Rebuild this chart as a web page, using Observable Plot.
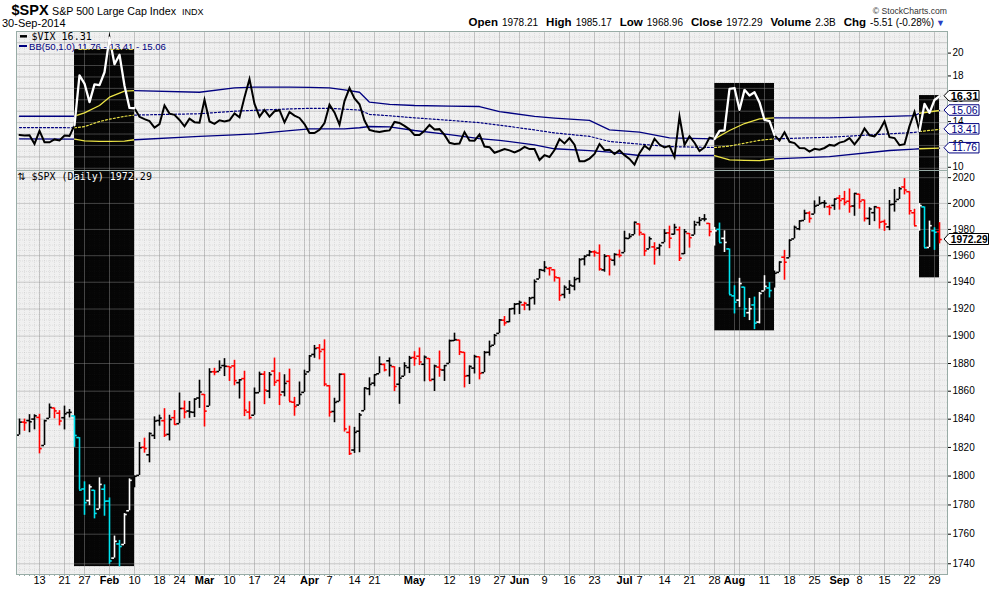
<!DOCTYPE html>
<html><head><meta charset="utf-8">
<script src="https://cdn.jsdelivr.net/npm/d3@7"></script>
<script src="https://cdn.jsdelivr.net/npm/@observablehq/plot@0.6"></script>
<style>
html,body{margin:0;padding:0;background:#fff;}
#chart{width:990px;height:591px;overflow:hidden;}
#chart svg{display:block;}
</style></head><body><div id="chart"></div>
<script>
// ---------------- DATA ----------------
const days = [
"2014-01-07","2014-01-08","2014-01-09","2014-01-10","2014-01-13","2014-01-14","2014-01-15","2014-01-16","2014-01-17","2014-01-21","2014-01-22","2014-01-23","2014-01-24","2014-01-27","2014-01-28","2014-01-29","2014-01-30","2014-01-31",
"2014-02-03","2014-02-04","2014-02-05","2014-02-06","2014-02-07","2014-02-10","2014-02-11","2014-02-12","2014-02-13","2014-02-14","2014-02-18","2014-02-19","2014-02-20","2014-02-21","2014-02-24","2014-02-25","2014-02-26","2014-02-27","2014-02-28",
"2014-03-03","2014-03-04","2014-03-05","2014-03-06","2014-03-07","2014-03-10","2014-03-11","2014-03-12","2014-03-13","2014-03-14","2014-03-17","2014-03-18","2014-03-19","2014-03-20","2014-03-21","2014-03-24","2014-03-25","2014-03-26","2014-03-27","2014-03-28","2014-03-31",
"2014-04-01","2014-04-02","2014-04-03","2014-04-04","2014-04-07","2014-04-08","2014-04-09","2014-04-10","2014-04-11","2014-04-14","2014-04-15","2014-04-16","2014-04-17","2014-04-21","2014-04-22","2014-04-23","2014-04-24","2014-04-25","2014-04-28","2014-04-29","2014-04-30",
"2014-05-01","2014-05-02","2014-05-05","2014-05-06","2014-05-07","2014-05-08","2014-05-09","2014-05-12","2014-05-13","2014-05-14","2014-05-15","2014-05-16","2014-05-19","2014-05-20","2014-05-21","2014-05-22","2014-05-23","2014-05-27","2014-05-28","2014-05-29","2014-05-30",
"2014-06-02","2014-06-03","2014-06-04","2014-06-05","2014-06-06","2014-06-09","2014-06-10","2014-06-11","2014-06-12","2014-06-13","2014-06-16","2014-06-17","2014-06-18","2014-06-19","2014-06-20","2014-06-23","2014-06-24","2014-06-25","2014-06-26","2014-06-27","2014-06-30",
"2014-07-01","2014-07-02","2014-07-03","2014-07-07","2014-07-08","2014-07-09","2014-07-10","2014-07-11","2014-07-14","2014-07-15","2014-07-16","2014-07-17","2014-07-18","2014-07-21","2014-07-22","2014-07-23","2014-07-24","2014-07-25","2014-07-28","2014-07-29","2014-07-30","2014-07-31",
"2014-08-01","2014-08-04","2014-08-05","2014-08-06","2014-08-07","2014-08-08","2014-08-11","2014-08-12","2014-08-13","2014-08-14","2014-08-15","2014-08-18","2014-08-19","2014-08-20","2014-08-21","2014-08-22","2014-08-25","2014-08-26","2014-08-27","2014-08-28","2014-08-29",
"2014-09-02","2014-09-03","2014-09-04","2014-09-05","2014-09-08","2014-09-09","2014-09-10","2014-09-11","2014-09-12","2014-09-15","2014-09-16","2014-09-17","2014-09-18","2014-09-19","2014-09-22","2014-09-23","2014-09-24","2014-09-25","2014-09-26","2014-09-29","2014-09-30"];

const open = [
1828.71,1837.90,1839.00,1840.06,1841.26,1821.36,1840.52,1847.99,1844.23,1841.05,1844.71,1842.29,1826.96,1791.03,1783.00,1790.15,1777.17,1790.88,
1782.68,1743.82,1753.38,1752.99,1776.01,1796.20,1800.45,1820.12,1814.82,1828.46,1839.03,1838.90,1829.24,1841.07,1836.78,1847.66,1845.79,1844.90,1855.12,
1857.68,1849.23,1874.05,1874.18,1878.52,1877.86,1878.26,1866.15,1869.06,1845.07,1842.81,1858.92,1872.25,1860.09,1874.53,1867.67,1859.48,1867.09,1852.11,1850.07,1859.16,
1873.96,1886.61,1891.43,1890.25,1863.92,1845.48,1852.64,1872.28,1830.65,1818.18,1831.45,1846.01,1861.73,1865.79,1872.57,1879.32,1881.97,1877.72,1865.00,1870.78,1877.10,
1884.39,1885.30,1879.45,1883.69,1868.53,1877.39,1875.27,1880.03,1896.75,1897.13,1888.16,1871.19,1876.66,1884.88,1873.34,1888.19,1893.32,1902.01,1911.77,1910.60,1920.33,
1923.87,1923.07,1923.06,1928.52,1942.41,1948.97,1950.34,1949.37,1943.35,1930.80,1934.84,1937.15,1942.73,1957.50,1960.45,1962.92,1961.97,1949.27,1959.89,1956.56,1960.79,
1962.29,1973.06,1975.88,1984.22,1976.39,1965.10,1966.67,1965.76,1969.86,1977.36,1976.35,1979.75,1961.54,1976.93,1975.65,1985.32,1988.07,1984.60,1978.25,1980.03,1973.21,1965.14,
1929.80,1926.62,1936.34,1917.29,1923.03,1910.35,1933.43,1935.73,1935.60,1947.41,1958.87,1958.36,1972.73,1980.46,1986.82,1992.60,1991.74,1998.59,2000.54,1997.42,1998.45,
2004.07,2003.57,2001.67,1998.00,2007.17,2002.67,1988.41,1992.85,1996.74,1986.04,1981.93,1999.30,2003.07,2012.74,2009.08,1992.78,1983.34,1997.32,1966.22,1978.96,1978.21];

const high = [
1840.10,1840.02,1843.23,1843.15,1843.45,1839.26,1850.84,1847.99,1846.04,1849.31,1846.87,1842.29,1826.96,1795.98,1793.87,1790.15,1798.77,1793.88,
1784.83,1758.73,1755.79,1774.06,1798.03,1799.94,1823.54,1826.55,1830.25,1841.65,1842.87,1847.50,1842.79,1846.13,1858.71,1852.91,1852.65,1854.53,1867.92,
1857.68,1876.23,1876.53,1881.94,1883.57,1877.87,1882.35,1868.38,1874.40,1852.44,1862.30,1873.76,1874.14,1873.49,1883.97,1873.34,1871.87,1875.92,1855.55,1866.63,1875.18,
1885.84,1893.17,1893.80,1897.28,1864.04,1854.95,1872.43,1872.53,1835.07,1834.19,1844.02,1862.31,1869.63,1871.89,1884.89,1879.75,1884.06,1877.72,1877.01,1880.60,1885.20,
1888.59,1891.33,1885.51,1883.69,1878.83,1889.07,1878.57,1897.13,1902.17,1897.13,1888.16,1878.28,1886.00,1884.88,1888.80,1896.33,1901.26,1912.28,1914.46,1920.03,1924.03,
1925.88,1925.07,1928.63,1941.74,1949.44,1955.55,1950.86,1949.37,1943.35,1937.30,1941.15,1943.69,1957.74,1959.87,1963.91,1963.74,1968.17,1960.83,1959.89,1961.47,1964.24,
1978.58,1976.67,1985.59,1984.22,1976.39,1974.15,1969.84,1968.67,1979.85,1982.52,1983.94,1981.80,1979.91,1976.93,1986.24,1989.23,1991.39,1984.60,1981.52,1984.85,1978.90,1965.14,
1937.35,1942.92,1936.34,1927.91,1928.89,1932.38,1944.90,1939.65,1948.41,1955.23,1964.04,1971.99,1982.57,1986.61,1994.76,1993.54,2001.95,2005.04,2002.14,1998.55,2003.38,
2006.12,2009.28,2011.17,2007.71,2007.17,2002.67,1996.66,1997.65,1996.74,1987.18,2002.28,2010.74,2012.34,2019.26,2009.08,1995.41,1999.79,1997.32,1986.37,1981.28,1985.17];

const low = [
1828.71,1831.40,1830.38,1832.43,1815.52,1821.36,1840.52,1840.30,1835.23,1832.38,1840.88,1820.06,1790.29,1772.88,1779.49,1770.45,1777.17,1772.26,
1739.66,1743.82,1737.92,1752.99,1776.01,1791.83,1800.41,1815.97,1809.22,1825.59,1835.01,1826.99,1824.58,1835.60,1836.78,1840.19,1840.66,1841.13,1847.67,
1834.44,1849.23,1871.11,1874.18,1870.56,1867.04,1863.88,1854.38,1841.86,1839.57,1842.81,1858.92,1850.35,1854.63,1863.46,1849.69,1855.96,1852.56,1842.11,1850.07,1859.16,
1873.96,1883.79,1882.65,1863.26,1841.48,1837.49,1852.38,1830.87,1814.36,1815.80,1816.29,1846.01,1856.72,1863.18,1872.57,1873.91,1870.24,1859.70,1850.61,1870.78,1872.69,
1878.04,1878.50,1866.77,1867.72,1859.79,1870.05,1867.02,1880.03,1896.06,1885.77,1862.36,1864.82,1872.42,1868.14,1873.34,1885.39,1893.32,1902.01,1907.30,1909.82,1915.58,
1915.98,1918.79,1918.60,1922.93,1942.41,1947.16,1944.64,1940.08,1925.78,1927.69,1930.91,1933.55,1939.29,1952.26,1959.17,1958.89,1948.34,1947.49,1944.69,1952.18,1958.22,
1962.29,1972.58,1975.88,1974.88,1959.46,1965.10,1952.86,1959.63,1969.86,1965.34,1975.67,1955.59,1960.82,1965.77,1975.65,1982.44,1985.79,1974.37,1967.31,1969.95,1962.42,1930.67,
1916.37,1921.20,1913.77,1911.45,1904.78,1909.01,1933.43,1928.29,1935.60,1947.41,1941.50,1958.36,1972.73,1979.01,1986.82,1984.76,1991.74,1998.59,1996.20,1990.52,1994.65,
1994.85,1998.14,1992.44,1990.10,1995.60,1985.70,1982.99,1985.93,1980.26,1978.48,1979.06,1993.29,2003.07,2006.59,1991.01,1982.77,1978.63,1965.99,1966.22,1964.04,1968.96];

const close = [
1837.88,1837.49,1838.13,1842.37,1819.20,1838.88,1848.38,1845.89,1838.70,1843.80,1844.86,1828.46,1790.29,1781.56,1792.50,1774.20,1794.19,1782.59,
1741.89,1755.20,1751.64,1773.43,1797.02,1799.84,1819.75,1819.26,1829.83,1838.63,1840.76,1828.75,1839.78,1836.25,1847.61,1845.12,1845.16,1854.29,1859.45,
1845.73,1873.91,1873.81,1877.03,1878.04,1877.17,1867.63,1868.20,1846.34,1841.13,1858.83,1872.25,1860.77,1872.01,1866.52,1857.44,1865.62,1852.56,1849.04,1857.62,1872.34,
1885.52,1890.90,1888.77,1865.09,1845.04,1851.96,1872.18,1833.08,1815.69,1830.61,1842.98,1862.31,1864.85,1871.89,1879.55,1875.39,1878.61,1863.40,1869.43,1878.33,1883.95,
1883.68,1881.14,1884.66,1867.72,1878.21,1875.63,1878.48,1896.65,1897.45,1888.53,1870.85,1877.86,1885.08,1872.83,1888.03,1892.49,1900.53,1911.91,1909.78,1920.03,1923.57,
1924.97,1924.24,1927.88,1940.46,1949.44,1951.27,1950.79,1943.89,1930.11,1936.16,1937.78,1941.99,1956.98,1959.48,1962.87,1962.61,1949.98,1959.53,1957.22,1960.96,1960.23,
1973.32,1974.62,1985.44,1977.65,1963.71,1972.83,1964.68,1967.57,1977.10,1973.28,1981.57,1958.12,1978.22,1973.63,1983.53,1987.01,1987.98,1978.34,1978.91,1969.95,1970.07,1930.67,
1925.15,1938.99,1920.21,1920.24,1909.57,1931.59,1936.92,1933.75,1946.72,1955.18,1955.06,1971.74,1981.60,1986.51,1992.37,1988.40,1997.92,2000.02,2000.12,1996.74,2003.37,
2002.28,2000.72,1997.65,2007.71,2001.54,1988.44,1995.69,1997.45,1985.54,1984.13,1998.98,2001.57,2011.36,2010.40,1994.29,1982.77,1998.30,1965.99,1982.85,1977.80,1972.29];

const prevClose = 1826.77;   // close of the session before the first bar
const volumeText = "2.3B";

const vix = [
12.92,12.87,12.89,12.14,13.28,12.28,12.28,12.53,12.44,12.87,12.84,13.77,18.14,17.42,15.80,17.35,17.29,18.41,
21.44,19.11,19.95,17.23,15.29,15.26,14.51,14.30,14.14,13.57,13.87,15.50,14.79,14.68,14.23,13.67,14.35,14.04,14.00,
16.00,14.10,13.89,14.21,14.11,14.20,14.80,14.47,16.22,17.82,15.64,14.52,15.12,14.52,15.00,15.09,14.02,14.93,14.62,14.41,13.88,
13.10,13.09,13.37,13.96,15.57,14.89,13.82,15.89,17.03,16.11,15.61,14.18,13.36,13.25,13.19,13.27,13.32,14.06,13.97,13.71,13.41,
12.91,12.91,13.29,13.80,13.40,13.43,12.92,12.23,12.13,12.17,13.17,12.44,12.42,12.96,11.91,11.85,11.36,11.51,11.68,11.57,11.40,
11.58,11.87,11.68,11.68,10.73,11.15,10.99,11.60,12.56,12.18,12.65,12.06,10.61,10.62,10.85,11.26,12.13,11.59,11.63,11.26,11.57,
11.15,10.82,10.32,11.33,11.98,11.65,12.59,12.08,11.82,11.96,11.00,14.54,12.06,12.81,12.24,11.52,11.84,12.69,12.56,13.28,13.33,16.95,
17.03,15.12,16.87,16.37,16.66,15.77,14.23,14.13,12.90,12.42,13.15,12.32,12.21,11.78,11.76,11.47,11.70,11.63,11.78,12.05,11.98,
12.25,12.36,12.64,12.09,12.66,13.50,12.88,12.80,13.31,14.12,12.73,12.65,12.03,12.11,13.69,14.93,13.27,15.64,14.85,15.98,16.31];

// Bollinger Bands (50, 1.0) at sample sessions
const bbDates = ["2014-01-07","2014-01-23","2014-01-27","2014-01-30","2014-02-03","2014-02-06","2014-02-10","2014-02-28","2014-03-11","2014-03-17","2014-03-26","2014-04-01","2014-04-07","2014-04-10","2014-04-15","2014-04-17","2014-04-24","2014-05-01","2014-05-12","2014-05-20","2014-05-27","2014-06-05","2014-06-11","2014-06-20","2014-06-26","2014-07-07","2014-07-15","2014-07-28","2014-07-31","2014-08-05","2014-08-08","2014-08-13","2014-08-28","2014-09-16","2014-09-23","2014-09-24","2014-09-30"];
const bbUpper  = [14.56,14.56,14.85,15.50,16.23,16.75,16.81,16.66,17.05,17.10,17.10,17.08,17.05,16.87,16.66,15.79,15.59,15.50,15.45,15.41,14.97,14.54,14.40,14.19,13.37,13.16,12.67,12.58,13.31,13.92,14.33,14.42,14.42,14.54,14.62,14.82,15.06];
const bbMiddle = [13.57,13.55,13.65,14.10,14.30,14.55,14.66,14.78,15.00,15.08,15.20,15.25,15.25,15.18,15.10,14.72,14.60,14.42,14.20,14.00,13.78,13.36,13.10,12.80,12.35,12.12,11.90,11.82,11.95,12.20,12.45,12.58,12.72,13.02,13.14,13.22,13.41];
const bbLower  = [12.58,12.55,12.40,12.35,12.35,12.38,12.50,12.80,12.92,13.02,13.30,13.46,13.46,13.46,13.55,13.66,13.62,13.31,12.95,12.60,12.45,12.05,11.71,11.55,11.41,11.12,11.12,11.12,10.74,10.70,10.68,10.83,11.03,11.56,11.68,11.71,11.76];

// black highlight boxes (annotations)
const highlightStart = ["2014-01-23","2014-07-28","2014-09-24"];
const highlightEnd   = ["2014-02-10","2014-08-13","2014-09-30"];
const highlightVixTop = [20.40, 17.43, 16.37];
const highlightPriceBottom = [1738.1, 1903.9, 1943.3];

// axis ticks
const xTickDates = ["2014-01-13","2014-01-21","2014-01-27","2014-02-03","2014-02-10","2014-02-18","2014-02-24","2014-03-03","2014-03-10","2014-03-17","2014-03-24","2014-04-01","2014-04-07","2014-04-14","2014-04-21","2014-05-01","2014-05-12","2014-05-19","2014-05-27","2014-06-02","2014-06-09","2014-06-16","2014-06-23","2014-07-01","2014-07-07","2014-07-14","2014-07-21","2014-07-28","2014-08-01","2014-08-11","2014-08-18","2014-08-25","2014-09-02","2014-09-08","2014-09-15","2014-09-22","2014-09-29"];
const xTickLabels = ["13","21","27","Feb","10","18","24","Mar","10","17","24","Apr","7","14","21","May","12","19","27","Jun","9","16","23","Jul","7","14","21","28","Aug","11","18","25","Sep","8","15","22","29"];
const gridDates = ["2014-01-13","2014-01-21","2014-01-27","2014-02-03","2014-02-10","2014-02-18","2014-02-24","2014-03-03","2014-03-10","2014-03-17","2014-03-24","2014-03-31","2014-04-01","2014-04-07","2014-04-14","2014-04-21","2014-04-28","2014-05-01","2014-05-05","2014-05-12","2014-05-19","2014-05-27","2014-06-02","2014-06-09","2014-06-16","2014-06-23","2014-06-30","2014-07-01","2014-07-07","2014-07-14","2014-07-21","2014-07-28","2014-08-01","2014-08-04","2014-08-11","2014-08-18","2014-08-25","2014-09-02","2014-09-08","2014-09-15","2014-09-22","2014-09-29"];
const priceTicks = [1740,1760,1780,1800,1820,1840,1860,1880,1900,1920,1940,1960,1980,2000,2020];
const vixTicks = [10,12,14,16,18,20];
const vixGrid = [10,11,12,13,14,15,16,17,18,19,20,21];

// ---------------- BUILD ----------------
const SANS = "'Liberation Sans', Arial, sans-serif";
const MONO = "'DejaVu Sans Mono', 'Liberation Mono', monospace";
const NAVY = "#000080", YELLOW = "#ece447", CYAN = "#00e3ef", RED = "#ff0000";
const FRAME = "#98aca6";
const GRID = {stroke: "#919191", strokeOpacity: 0.44};
const MINOR = {stroke: "#3c3c3c", strokeOpacity: 0.09, strokeDasharray: "1,1"};

const I = new Map(days.map((d, i) => [d, i]));
const allIdx = days.map((d, i) => i);
const xDomain = [-0.6, days.length + 0.6];
const vixDomain = [9.807, 21.98];
const priceDomain = [1732.8, 2025.6];

const hl = highlightStart.map((s, k) => ({
  s: I.get(s), e: I.get(highlightEnd[k]),
  top: highlightVixTop[k], bottom: highlightPriceBottom[k],
  vmin: vixDomain[0], pmax: priceDomain[1]
}));
const inHL = i => hl.some(h => i >= h.s && i < h.e);

const bars = days.map((d, i) => {
  const up = close[i] >= (i ? close[i - 1] : prevClose);
  const h = inHL(i);
  return {i, o: open[i], h: high[i], l: low[i], c: close[i],
    color: h ? (up ? "#ffffff" : CYAN) : (up ? "#000000" : RED)};
});

const vixRows = vix.map((v, i) => ({i, v}));
const whiteRows = hl.flatMap((h, k) => vixRows.filter(r => r.i >= h.s && r.i <= h.e).map(r => ({...r, seg: k})));

const bbPts = bbDates.map((d, j) => ({i: I.get(d), U: bbUpper[j], M: bbMiddle[j], L: bbLower[j]}));
const bounds = [0, ...hl.flatMap(h => [h.s, h.e]), days.length - 1];
const bbRows = [];
for (let k = 0; k < bounds.length - 1; k++) {
  const a = bounds[k], b = bounds[k + 1];
  for (const p of bbPts) if (p.i >= a && p.i <= b) bbRows.push({...p, seg: k, color: k % 2 ? YELLOW : NAVY});
}

const gridIdx = gridDates.map(d => I.get(d));
const xLabels = xTickDates.map((d, k) => ({i: I.get(d), label: xTickLabels[k], bold: isNaN(+xTickLabels[k])}));

function valueTags(tags, boxW, h) {
  return (index, scales, values, dims) => {
    const g = d3.create("svg:g");
    const xr = dims.width - dims.marginRight;
    const x0 = xr - 3, x1 = xr + 2, x2 = x0 + boxW;
    for (const t of tags) {
      const y = scales.y(t.value);
      g.append("path")
        .attr("d", `M${x0},${y}L${x1},${y - h / 2}H${x2}V${y + h / 2}H${x1}Z`)
        .attr("fill", "white").attr("stroke", t.stroke).attr("stroke-width", 1);
      g.append("text").attr("x", (x1 + x2) / 2 + 0.5).attr("y", y).attr("dy", "0.36em")
        .attr("text-anchor", "middle").attr("font-family", SANS).attr("font-size", t.size)
        .attr("font-weight", t.bold ? "bold" : "normal").attr("fill", t.color)
        .text(t.value.toFixed(2));
    }
    return g.node();
  };
}

function vixLegend(index, scales, values, dims) {
  const g = d3.create("svg:g").attr("text-anchor", "start");
  const h = hl[0];
  const cx = scales.x(h.s), cw = scales.x(h.e) - cx, cy = scales.y(h.top);
  g.append("clipPath").attr("id", "bbclip").append("rect")
    .attr("x", cx).attr("y", cy).attr("width", cw).attr("height", dims.height - cy);
  g.append("line").attr("x1", 20).attr("x2", 27).attr("y1", 5.3).attr("y2", 5.3).attr("stroke", "black").attr("stroke-width", 2.5);
  g.append("text").attr("x", 31.5).attr("y", 9.3).attr("font-family", MONO).attr("font-size", 10)
    .attr("fill", "black").text(`$VIX ${vix[vix.length - 1].toFixed(2)}`);
  g.append("line").attr("x1", 19).attr("x2", 27).attr("y1", 15).attr("y2", 15).attr("stroke", NAVY).attr("stroke-width", 2);
  const bbText = `BB(50,1.0) ${bbLower.at(-1).toFixed(2)} - ${bbMiddle.at(-1).toFixed(2)} - ${bbUpper.at(-1).toFixed(2)}`;
  g.append("text").attr("x", 29).attr("y", 18.6).attr("font-family", SANS).attr("font-size", 9.6)
    .attr("fill", NAVY).text(bbText);
  g.append("text").attr("x", 29).attr("y", 18.6).attr("font-family", SANS).attr("font-size", 9.6)
    .attr("fill", YELLOW).attr("clip-path", "url(#bbclip)").text(bbText);
  return g.node();
}

function priceLegend(index, scales, values, dims) {
  const g = d3.create("svg:g").attr("text-anchor", "start");
  const h = hl[0];
  const cx = scales.x(h.s), cw = scales.x(h.e) - cx;
  g.append("clipPath").attr("id", "pxclip").append("rect")
    .attr("x", cx).attr("y", 0).attr("width", cw).attr("height", 30);
  const txt = `$SPX (Daily) ${close[close.length - 1].toFixed(2)}`;
  for (const [fill, clip] of [["black", null], ["white", "url(#pxclip)"]]) {
    const t = g.append("g").attr("fill", fill);
    if (clip) t.attr("clip-path", clip);
    t.append("text").attr("x", 17.5).attr("y", 9.5).attr("font-family", "'DejaVu Sans', sans-serif").attr("font-size", 10).text("⇅");
    t.append("text").attr("x", 31.5).attr("y", 9.5).attr("font-family", MONO).attr("font-size", 10).text(txt);
  }
  return g.node();
}

const chart = document.getElementById("chart");

// ---- header ----
const header = d3.create("svg").attr("width", 990).attr("height", 31).style("display", "block")
  .attr("font-family", SANS);
header.append("text").attr("x", 11.5).attr("y", 15).attr("font-size", 14.5).attr("font-weight", "bold").text("$SPX");
header.append("text").attr("x", 52).attr("y", 15).attr("font-size", 10.7).text("S&P 500 Large Cap Index");
header.append("text").attr("x", 182).attr("y", 15).attr("font-size", 9).text("INDX");
header.append("text").attr("x", 2).attr("y", 27).attr("font-size", 11).text("30-Sep-2014");
header.append("text").attr("x", 947).attr("y", 14).attr("text-anchor", "end").attr("font-size", 8.6)
  .attr("fill", "#333").text("© StockCharts.com");
const n = days.length - 1;
const chg = close[n] - close[n - 1];
const info = header.append("text").attr("x", 934).attr("y", 26).attr("text-anchor", "end");
[["Open", open[n].toFixed(2)], ["High", high[n].toFixed(2)], ["Low", low[n].toFixed(2)],
 ["Close", close[n].toFixed(2)], ["Volume", volumeText],
 ["Chg", `${chg.toFixed(2)} (${(chg / close[n - 1] * 100).toFixed(2)}%)`]].forEach(([lab, val], k) => {
  info.append("tspan").attr("font-weight", "bold").attr("font-size", 11.5).attr("dx", k ? 8 : 0).text(lab);
  info.append("tspan").attr("font-size", 10).attr("dx", 4).text(val);
});
header.append("text").attr("x", 936).attr("y", 26).attr("font-size", 9).attr("fill", "#2a3fc4").text("▼");
chart.appendChild(header.node());

// ---- VIX panel ----
const vixPlot = Plot.plot({
  width: 990, height: 139, marginTop: 0, marginBottom: 0, marginLeft: 16, marginRight: 43,
  style: {background: "transparent", fontFamily: SANS, fontSize: "10px", color: "black", overflow: "visible"},
  x: {domain: xDomain, axis: null},
  y: {domain: vixDomain},
  marks: [
    Plot.frame({fill: "#f0f0f0", stroke: null}),
    Plot.rect(hl, {x1: "s", x2: "e", y1: "top", y2: "vmin", fill: "#050505"}),
    Plot.ruleX(allIdx, {...MINOR}),
    Plot.ruleY(vixGrid.map(v => v + 0.5), {...MINOR}),
    Plot.ruleY(vixGrid, {...GRID}),
    Plot.ruleX(gridIdx, {...GRID}),
    Plot.line(bbRows, {x: "i", y: "U", z: "seg", stroke: "color", strokeWidth: 1.3}),
    Plot.line(bbRows, {x: "i", y: "L", z: "seg", stroke: "color", strokeWidth: 1.3}),
    Plot.line(bbRows, {x: "i", y: "M", z: "seg", stroke: "color", strokeWidth: 1.2, strokeDasharray: "2,2"}),
    Plot.line(vixRows, {x: "i", y: "v", stroke: "black", strokeWidth: 2, strokeLinejoin: "miter", strokeMiterlimit: 8}),
    Plot.line(whiteRows, {x: "i", y: "v", z: "seg", stroke: "white", strokeWidth: 2.3, strokeLinejoin: "round"}),
    Plot.frame({stroke: FRAME}),
    Plot.axisY({anchor: "right", ticks: vixTicks, tickSize: 3, tickPadding: 2, fontSize: 10, dy: -1, tickFormat: d => String(d)}),
    vixLegend,
    valueTags([
      {value: vix[n], stroke: "black", color: "black", bold: true, size: 11},
      {value: bbUpper.at(-1), stroke: NAVY, color: NAVY, size: 10.4},
      {value: bbMiddle.at(-1), stroke: NAVY, color: NAVY, size: 10.4},
      {value: bbLower.at(-1), stroke: NAVY, color: NAVY, size: 10.4}
    ], 35, 10.5)
  ]
});
chart.appendChild(vixPlot);

// ---- price panel ----
const pricePlot = Plot.plot({
  width: 990, height: 421, marginTop: 0, marginBottom: 17, marginLeft: 16, marginRight: 43,
  style: {background: "transparent", fontFamily: SANS, fontSize: "10px", color: "black", overflow: "visible"},
  x: {domain: xDomain},
  y: {type: "log", domain: priceDomain},
  marks: [
    Plot.frame({fill: "#f0f0f0", stroke: null}),
    Plot.rect(hl, {x1: "s", x2: "e", y1: "pmax", y2: "bottom", fill: "#050505"}),
    Plot.ruleX(allIdx, {...MINOR}),
    Plot.ruleY(d3.range(1736, 2026, 4).filter(v => v % 20 !== 0), {...MINOR}),
    Plot.ruleY(priceTicks, {...GRID}),
    Plot.ruleX(gridIdx, {...GRID}),
    Plot.ruleX(bars, {x: "i", y1: "l", y2: "h", stroke: "color", strokeWidth: 1.6}),
    Plot.ruleY(bars, {y: "o", x1: d => d.i - 0.55, x2: "i", stroke: "color", strokeWidth: 1.6}),
    Plot.ruleY(bars, {y: "c", x1: "i", x2: d => d.i + 0.55, stroke: "color", strokeWidth: 1.6}),
    Plot.frame({stroke: FRAME}),
    Plot.axisY({anchor: "right", ticks: priceTicks, tickSize: 3, tickPadding: 2, fontSize: 10, tickFormat: d => String(d)}),
    Plot.axisX({ticks: allIdx, tickSize: 2, tickFormat: () => "", stroke: FRAME}),
    Plot.text(xLabels.filter(d => !d.bold), {x: "i", text: "label", frameAnchor: "bottom", dy: 9, fontSize: 11, fill: "black"}),
    Plot.text(xLabels.filter(d => d.bold), {x: "i", text: "label", frameAnchor: "bottom", dy: 9, fontSize: 11, fontWeight: "bold", fill: "black"}),
    priceLegend,
    valueTags([{value: close[n], stroke: "black", color: "black", bold: true, size: 10.2}], 44.5, 11)
  ]
});
chart.appendChild(pricePlot);
</script></body></html>
